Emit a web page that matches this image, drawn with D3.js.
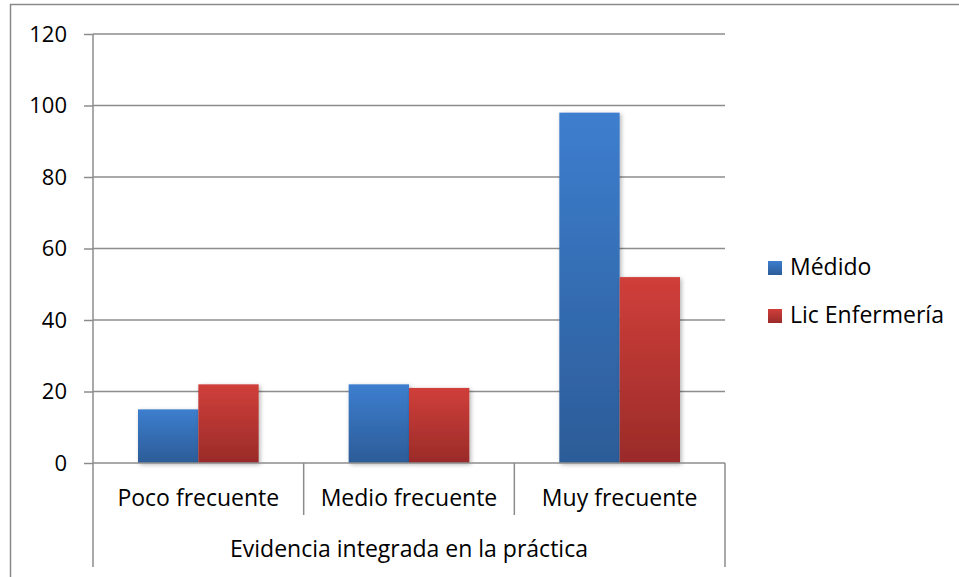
<!DOCTYPE html>
<html>
<head>
<meta charset="utf-8">
<script src="https://cdn.jsdelivr.net/npm/d3@7"></script>
<style>
  html, body { margin: 0; padding: 0; background: #fff; }
  svg { display: block; }
  text { font-family: "Open Sans", Lato, "Liberation Sans", sans-serif; fill: #000; }
</style>
</head>
<body>
<svg id="chart" width="959" height="577"></svg>
<script>
// Chart data
const categories = ["Poco frecuente", "Medio frecuente", "Muy frecuente"];
const seriesNames = ["Médido", "Lic Enfermería"];
const medicoValues = [15, 22, 98];
const enfermeriaValues = [22, 21, 52];
const yTicks = [0, 20, 40, 60, 80, 100, 120];
const groupTitle = "Evidencia integrada en la práctica";

const seriesValues = [medicoValues, enfermeriaValues];

(function () {
  const svg = d3.select("#chart");
  const W = 959, H = 577;
  const fontSize = 23;

  // Plot area
  const plotLeft = 93, plotRight = 725, plotTop = 34, plotBottom = 463;
  const axisEnd = 567;

  // Outer frame (open to the right and bottom)
  svg.append("rect")
    .attr("x", 10.5).attr("y", 4.5)
    .attr("width", W + 10).attr("height", H + 10)
    .attr("fill", "none").attr("stroke", "#8a8a8a").attr("stroke-width", 1.5);

  const defs = svg.append("defs");
  const gradStops = [
    ["gradBlue", "#3d7ece", "#2c5c98"],
    ["gradRed", "#d03f3a", "#9a2b29"]
  ];
  gradStops.forEach(([id, c0, c1]) => {
    const g = defs.append("linearGradient").attr("id", id)
      .attr("x1", 0).attr("y1", 0).attr("x2", 0).attr("y2", 1);
    g.append("stop").attr("offset", "0%").attr("stop-color", c0);
    g.append("stop").attr("offset", "100%").attr("stop-color", c1);
  });
  const shadow = defs.append("filter").attr("id", "shadow")
    .attr("x", "-20%").attr("y", "-10%").attr("width", "150%").attr("height", "130%");
  shadow.append("feDropShadow").attr("dx", 1.5).attr("dy", 1.5)
    .attr("stdDeviation", 2).attr("flood-color", "#000").attr("flood-opacity", 0.3);

  const y = d3.scaleLinear().domain([0, 120]).range([plotBottom, plotTop]);
  const x0 = d3.scaleBand().domain(categories).range([plotLeft, plotRight]).paddingInner(0).paddingOuter(0);
  const x1 = d3.scaleBand().domain(seriesNames).range([45, x0.bandwidth() - 45]).padding(0);

  const gridColor = "#8c8c8c";

  // Gridlines
  svg.append("g").selectAll("line").data(yTicks.filter(t => t > 0)).join("line")
    .attr("x1", plotLeft).attr("x2", plotRight)
    .attr("y1", d => y(d)).attr("y2", d => y(d))
    .attr("stroke", gridColor).attr("stroke-width", 1.5);

  // Y axis
  const yAxis = d3.axisLeft(y).tickValues(yTicks).tickSize(9).tickPadding(17).tickFormat(d3.format("d"));
  const yg = svg.append("g").attr("transform", `translate(${plotLeft},0)`).call(yAxis);
  yg.select(".domain").remove();
  yg.selectAll(".tick line").attr("stroke", gridColor).attr("stroke-width", 1.5);
  yg.selectAll(".tick text").attr("font-size", 22)
    .attr("font-family", "'Open Sans', Lato, sans-serif").attr("fill", "#000");

  // Bars
  const colors = ["url(#gradBlue)", "url(#gradRed)"];
  const groups = svg.append("g").selectAll("g").data(categories).join("g")
    .attr("transform", d => `translate(${x0(d)},0)`);
  groups.selectAll("rect")
    .data((c, i) => seriesNames.map((s, j) => ({ s, j, v: seriesValues[j][i] })))
    .join("rect")
    .attr("x", d => x1(d.s)).attr("width", x1.bandwidth())
    .attr("y", d => y(d.v)).attr("height", d => y(0) - y(d.v))
    .attr("fill", d => colors[d.j])
    .attr("filter", "url(#shadow)");

  // Baseline and vertical axis lines
  svg.append("line").attr("x1", plotLeft).attr("x2", plotRight).attr("y1", plotBottom).attr("y2", plotBottom)
    .attr("stroke", gridColor).attr("stroke-width", 1.5);
  svg.append("line").attr("x1", plotLeft).attr("x2", plotLeft).attr("y1", plotTop).attr("y2", axisEnd)
    .attr("stroke", gridColor).attr("stroke-width", 1.5);
  svg.append("line").attr("x1", plotRight).attr("x2", plotRight).attr("y1", plotBottom).attr("y2", axisEnd)
    .attr("stroke", gridColor).attr("stroke-width", 1.5);

  // Category dividers
  svg.append("g").selectAll("line").data(categories.slice(1)).join("line")
    .attr("x1", d => x0(d)).attr("x2", d => x0(d))
    .attr("y1", plotBottom).attr("y2", 515)
    .attr("stroke", gridColor).attr("stroke-width", 1.5);

  // Category labels
  svg.append("g").selectAll("text").data(categories).join("text")
    .attr("x", d => x0(d) + x0.bandwidth() / 2).attr("y", 506)
    .attr("text-anchor", "middle").attr("font-size", fontSize)
    .text(d => d);

  // Group title
  svg.append("text")
    .attr("x", (plotLeft + plotRight) / 2).attr("y", 557)
    .attr("text-anchor", "middle").attr("font-size", fontSize)
    .text(groupTitle);

  // Legend
  const legend = svg.append("g").attr("transform", "translate(768,261)");
  const li = legend.selectAll("g").data(seriesNames).join("g")
    .attr("transform", (d, i) => `translate(0,${i * 48})`);
  li.append("rect").attr("width", 14).attr("height", 14)
    .attr("fill", (d, i) => colors[i]);
  li.append("text").attr("x", 22).attr("y", 14).attr("font-size", fontSize).text(d => d);
})();
</script>
</body>
</html>
